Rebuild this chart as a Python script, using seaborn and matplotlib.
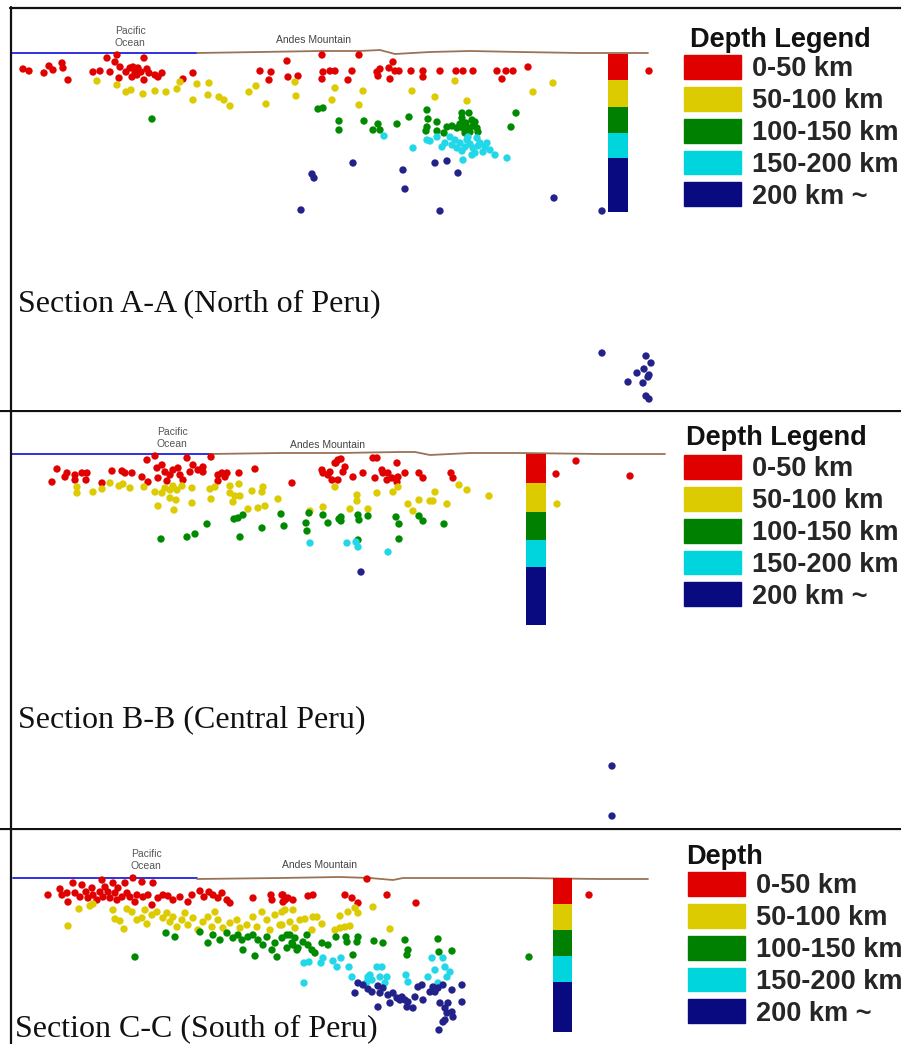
import numpy as np
import pandas as pd
import matplotlib
matplotlib.use("Agg")
import matplotlib.pyplot as plt
import seaborn as sns
from matplotlib.patches import Patch

# Depth classes and colours
depth_classes = ["0-50 km", "50-100 km", "100-150 km", "150-200 km", "200 km ~"]
dot_colors = ["#e00000", "#dccb00", "#008a00", "#22d8e8", "#22228a"]
bar_colors = ["#e00000", "#dccb00", "#008000", "#00d4dc", "#0a0a80"]

# Section A-A (distance, depth) in plot units
a_red = [(23, 69), (29, 71), (44, 73), (49, 66), (53, 70), (62, 63), (63, 68), (68, 80), (93, 72), (100, 71),
         (107, 58), (110, 72), (115, 62), (117, 55), (120, 67), (119, 78), (126, 72), (130, 68), (135, 72), (137, 75),
         (132, 77), (138, 68), (133, 67), (141, 72), (144, 58), (147, 69), (149, 73), (144, 80), (155, 75), (158, 77),
         (162, 73), (183, 79), (193, 73), (260, 71), (271, 72), (269, 80), (287, 61), (288, 77), (298, 76), (322, 55),
         (323, 72), (322, 79), (330, 71), (335, 71), (348, 80), (352, 71), (359, 55), (377, 72), (380, 69), (378, 76),
         (389, 68), (393, 62), (395, 71), (399, 71), (390, 79), (411, 71), (423, 71), (423, 77), (440, 71), (456, 71),
         (463, 71), (473, 71), (497, 71), (502, 79), (506, 71), (513, 71), (528, 67), (649, 71)]
a_yellow = [(97, 81), (117, 85), (126, 92), (131, 90), (143, 94), (155, 91), (166, 92), (177, 89), (180, 82), (193, 100),
            (197, 84), (208, 95), (209, 83), (219, 97), (224, 100), (230, 106), (249, 92), (256, 86), (266, 104), (295, 82),
            (296, 96), (332, 100), (335, 88), (363, 91), (359, 105), (412, 91), (435, 97), (455, 81), (467, 101), (533, 92),
            (553, 83)]
a_green = [(152, 119), (318, 109), (323, 108), (339, 121), (339, 130), (364, 121), (373, 130), (378, 124), (380, 130),
           (397, 124), (409, 117), (427, 110), (428, 119), (427, 127), (426, 131), (437, 122), (437, 131), (444, 133),
           (462, 113), (469, 113), (462, 118), (472, 120), (452, 126), (457, 128), (463, 128), (468, 128), (473, 126),
           (477, 128), (478, 132), (447, 127), (460, 124), (466, 123), (475, 122), (470, 132), (465, 133), (516, 113),
           (511, 127)]
a_cyan = [(384, 136), (413, 148), (427, 140), (430, 141), (437, 137), (445, 143), (450, 137), (455, 140), (460, 143),
          (467, 140), (457, 148), (465, 147), (473, 148), (480, 143), (485, 147), (475, 153), (483, 152), (490, 150),
          (495, 155), (468, 137), (477, 138), (463, 160), (507, 158), (452, 145), (470, 144), (478, 146), (462, 151),
          (487, 143), (472, 155), (442, 147)]
a_navy = [(312, 174), (314, 178), (301, 210), (353, 163), (403, 170), (405, 189), (435, 163), (447, 161), (458, 173),
          (440, 211), (554, 198), (602, 211), (602, 353), (646, 356), (651, 363), (644, 369), (637, 373), (649, 375),
          (648, 377), (628, 382), (643, 383), (646, 396), (649, 399)]

# Section B-B
b_red = [(57, 469), (52, 482), (65, 477), (67, 473), (75, 475), (75, 480), (82, 473), (86, 480), (87, 473), (102, 483),
         (112, 471), (122, 471), (125, 473), (132, 473), (142, 477), (147, 460), (148, 482), (155, 456), (157, 468),
         (162, 465), (158, 478), (165, 472), (167, 481), (170, 475), (173, 470), (178, 468), (180, 475), (183, 480),
         (187, 458), (190, 472), (193, 465), (198, 470), (203, 467), (203, 472), (211, 457), (218, 475), (222, 473),
         (225, 477), (218, 481), (227, 473), (239, 473), (255, 469), (292, 483), (322, 470), (328, 475), (335, 463),
         (332, 480), (338, 460), (323, 473), (330, 472), (336, 463), (341, 459), (343, 472), (345, 467), (338, 480),
         (353, 477), (363, 473), (373, 458), (377, 458), (375, 478), (382, 470), (383, 473), (388, 473), (387, 480),
         (392, 478), (397, 482), (397, 463), (398, 477), (405, 473), (419, 473), (423, 478), (451, 473), (453, 478),
         (556, 474), (576, 461), (630, 476)]
b_yellow = [(77, 487), (77, 493), (93, 492), (102, 489), (110, 483), (119, 486), (123, 484), (130, 488), (144, 487),
            (155, 492), (162, 493), (165, 488), (170, 490), (173, 486), (177, 490), (182, 486), (192, 488), (170, 498),
            (176, 500), (192, 503), (158, 506), (174, 510), (210, 489), (215, 487), (211, 499), (230, 486), (230, 493),
            (235, 496), (240, 496), (233, 502), (239, 484), (252, 491), (262, 492), (263, 487), (248, 509), (258, 508),
            (265, 506), (278, 499), (310, 511), (323, 507), (335, 487), (357, 495), (357, 501), (350, 509), (368, 509),
            (377, 493), (393, 492), (398, 487), (408, 504), (413, 511), (419, 500), (430, 501), (433, 501), (435, 492),
            (447, 504), (459, 485), (467, 490), (489, 496), (557, 504)]
b_green = [(161, 539), (187, 537), (195, 534), (207, 524), (234, 519), (238, 518), (243, 515), (240, 537), (262, 528),
           (281, 514), (284, 526), (306, 523), (307, 531), (323, 515), (328, 523), (339, 519), (309, 513), (341, 517),
           (341, 521), (358, 515), (359, 520), (368, 516), (358, 540), (396, 517), (399, 524), (399, 539), (419, 516),
           (423, 521), (444, 524)]
b_cyan = [(310, 543), (347, 543), (356, 542), (358, 547), (388, 552)]
b_navy = [(361, 572), (612, 766), (612, 816)]

# Section C-C
c_red = [(48, 895), (60, 889), (62, 895), (68, 902), (67, 893), (73, 883), (75, 893), (80, 897), (82, 885), (86, 892),
         (88, 898), (92, 888), (93, 895), (97, 900), (100, 892), (102, 880), (103, 897), (105, 887), (108, 892),
         (110, 898), (113, 883), (115, 893), (117, 900), (118, 888), (122, 897), (125, 883), (127, 893), (130, 897),
         (133, 878), (135, 902), (137, 895), (142, 882), (143, 897), (148, 895), (152, 905), (153, 883), (158, 898),
         (163, 895), (168, 896), (173, 900), (180, 897), (188, 902), (192, 895), (200, 891), (204, 897), (209, 892),
         (213, 895), (218, 898), (222, 893), (227, 900), (230, 903), (253, 898), (271, 895), (272, 900), (283, 895),
         (285, 900), (293, 900), (282, 895), (283, 902), (288, 898), (308, 896), (313, 895), (345, 895), (352, 898),
         (358, 903), (367, 879), (387, 895), (416, 903), (589, 895)]
c_yellow = [(68, 926), (79, 909), (90, 906), (93, 904), (113, 910), (115, 919), (120, 921), (124, 929), (127, 909),
            (132, 912), (137, 920), (142, 918), (145, 910), (147, 924), (152, 915), (157, 912), (163, 918), (167, 913),
            (170, 922), (173, 917), (177, 927), (182, 920), (185, 913), (188, 925), (193, 918), (198, 930), (203, 922),
            (208, 917), (212, 927), (215, 912), (218, 920), (223, 928), (230, 923), (237, 920), (240, 928), (247, 925),
            (253, 917), (257, 927), (262, 912), (267, 920), (270, 930), (275, 915), (280, 925), (285, 910), (290, 922),
            (293, 910), (295, 928), (282, 912), (282, 925), (300, 920), (305, 919), (313, 917), (317, 917), (312, 930),
            (322, 924), (335, 930), (340, 928), (345, 927), (350, 926), (340, 916), (348, 912), (355, 908), (358, 913),
            (373, 907), (390, 929)]
c_green = [(135, 957), (166, 933), (175, 937), (200, 932), (208, 943), (213, 935), (220, 940), (227, 933), (233, 938),
           (238, 935), (242, 940), (243, 950), (248, 937), (253, 935), (255, 956), (258, 940), (263, 945), (267, 937),
           (272, 950), (275, 943), (277, 957), (282, 938), (287, 948), (290, 935), (293, 945), (297, 950), (287, 935),
           (292, 943), (295, 938), (298, 948), (303, 942), (307, 935), (308, 945), (312, 950), (315, 953), (322, 943),
           (328, 945), (336, 937), (346, 937), (347, 942), (358, 937), (357, 942), (353, 955), (374, 941), (383, 943),
           (405, 940), (408, 950), (407, 955), (438, 939), (439, 952), (452, 951), (529, 957)]
c_cyan = [(304, 963), (309, 962), (304, 983), (321, 963), (323, 958), (333, 961), (337, 967), (341, 958), (349, 967),
          (352, 977), (368, 977), (372, 980), (377, 967), (382, 967), (380, 977), (387, 977), (385, 983), (406, 975),
          (408, 982), (428, 977), (432, 958), (435, 970), (438, 983), (443, 958), (445, 967), (447, 977), (450, 972),
          (367, 982), (370, 975)]
c_navy = [(355, 993), (358, 983), (363, 985), (368, 989), (372, 992), (378, 986), (380, 993), (383, 988), (388, 995),
          (390, 1003), (393, 993), (397, 998), (400, 1000), (402, 997), (405, 1000), (407, 1007), (408, 1002),
          (413, 1008), (415, 997), (418, 987), (422, 985), (423, 1000), (430, 992), (433, 987), (435, 992), (438, 988),
          (440, 1003), (443, 985), (445, 1008), (447, 1013), (448, 1003), (452, 1012), (453, 1017), (445, 1020),
          (443, 1022), (439, 1030), (462, 985), (462, 1002), (452, 990), (378, 1007)]

# Surface profiles: ocean and land
a_ocean_x, a_ocean_y = [11, 197], [53, 53]
a_land_x = [197, 260, 320, 360, 380, 395, 430, 470, 520, 580, 648]
a_land_y = [53, 52, 51, 51, 50, 54, 52, 51, 52, 53, 53]
b_ocean_x, b_ocean_y = [11, 210], [454, 454]
b_land_x = [210, 280, 340, 400, 415, 430, 470, 520, 600, 665]
b_land_y = [454, 453, 453, 452, 452, 455, 453, 453, 454, 454]
c_ocean_x, c_ocean_y = [13, 197], [878, 878]
c_land_x = [197, 280, 340, 370, 393, 403, 430, 520, 600, 648]
c_land_y = [879, 878, 877, 878, 880, 878, 878, 878, 879, 879]

# Depth scale bars (boundaries of each class)
a_bar_x, a_bar_edges = 618, [54, 80, 107, 133, 158, 212]
b_bar_x, b_bar_edges = 536, [454, 483, 512, 540, 567, 625]
c_bar_x, c_bar_edges = 562.5, [878, 904, 930, 956, 982, 1032]

W, H = 901, 1044
sns.set_style("white")
fig = plt.figure(figsize=(W / 100, H / 100), dpi=100)

palette = dict(zip(depth_classes, dot_colors))
legend_font = {"family": "Liberation Sans", "weight": "bold", "size": 19.5}


def points_frame(groups):
    rows = []
    for cls, pts in zip(depth_classes, groups):
        for x, y in pts:
            rows.append({"dist": x, "depth": y, "cls": cls})
    return pd.DataFrame(rows)


def draw_panel(top, bottom, groups, ocean, land, bar_x, bar_edges, bar_w,
               pacific_xy, andes_xy, title, title_xy, leg_title, leg_title_xy, leg_xy):
    ax = fig.add_axes([0, 1 - bottom / H, 1, (bottom - top) / H])
    ax.set_xlim(0, W)
    ax.set_ylim(bottom, top)
    ax.axis("off")

    ax.plot(ocean[0], ocean[1], color="#2020e0", lw=1.3)
    ax.plot(land[0], land[1], color="#9a7356", lw=1.3)

    ax.bar([bar_x] * 5, np.diff(bar_edges), bottom=bar_edges[:-1], width=bar_w,
           color=bar_colors, linewidth=0, zorder=2)

    df = points_frame(groups)
    sns.scatterplot(data=df, x="dist", y="depth", hue="cls", hue_order=depth_classes,
                    palette=palette, s=28, linewidth=0, legend=False, ax=ax, zorder=3)

    ax.text(pacific_xy[0], pacific_xy[1], "Pacific", ha="center", va="center",
            fontsize=7.5, color="#555555", family="Liberation Sans")
    ax.text(pacific_xy[0], pacific_xy[1] + 12, "Ocean", ha="center", va="center",
            fontsize=7.5, color="#555555", family="Liberation Sans")
    ax.text(andes_xy[0], andes_xy[1], "Andes Mountain", ha="center", va="center",
            fontsize=7.5, color="#444444", family="Liberation Sans")

    ax.text(title_xy[0], title_xy[1], title, ha="left", va="baseline",
            fontsize=23, family="Liberation Serif", color="#111111")

    # legend title as its own text, entries as a legend
    ax.text(leg_title_xy[0], leg_title_xy[1], leg_title, ha="left", va="baseline",
            color="#111111", family="Liberation Sans", weight="bold", fontsize=19.5)
    handles = [Patch(facecolor=c, edgecolor=c) for c in bar_colors]
    ax.legend(handles, depth_classes, loc="upper left",
              bbox_to_anchor=leg_xy, bbox_transform=ax.transData,
              frameon=False, prop=legend_font,
              handlelength=2.1, handleheight=0.98, handletextpad=0.4,
              labelspacing=0.17, borderpad=0, borderaxespad=0)
    return ax


ax_a = draw_panel(0, 410, [a_red, a_yellow, a_green, a_cyan, a_navy],
                  (a_ocean_x, a_ocean_y), (a_land_x, a_land_y), a_bar_x, a_bar_edges, 20,
                  (130, 31), (313, 40), "Section A-A (North of Peru)", (18, 311),
                  "Depth Legend", (690, 47), (684, 55))
ax_a.axhline(7.5, xmin=10 / W, color="#111111", lw=1.6)
ax_a.axvline(10.5, ymax=1 - 7 / 410, color="#111111", lw=1.6)

ax_b = draw_panel(410, 828, [b_red, b_yellow, b_green, b_cyan, b_navy],
                  (b_ocean_x, b_ocean_y), (b_land_x, b_land_y), b_bar_x, b_bar_edges, 20,
                  (172, 432), (328, 445), "Section B-B (Central Peru)", (18, 727),
                  "Depth Legend", (686, 445), (684, 455))
ax_b.axhline(410.5, color="#111111", lw=1.6)
ax_b.axvline(10.5, color="#111111", lw=1.6)

ax_c = draw_panel(828, 1044, [c_red, c_yellow, c_green, c_cyan, c_navy],
                  (c_ocean_x, c_ocean_y), (c_land_x, c_land_y), c_bar_x, c_bar_edges, 19,
                  (146, 854), (320, 865), "Section C-C (South of Peru)", (15, 1036),
                  "Depth", (686, 864), (688, 872))
ax_c.axhline(828.5, color="#111111", lw=1.6)
ax_c.axvline(10.5, color="#111111", lw=1.6)

fig.savefig("out.png", dpi=100)
